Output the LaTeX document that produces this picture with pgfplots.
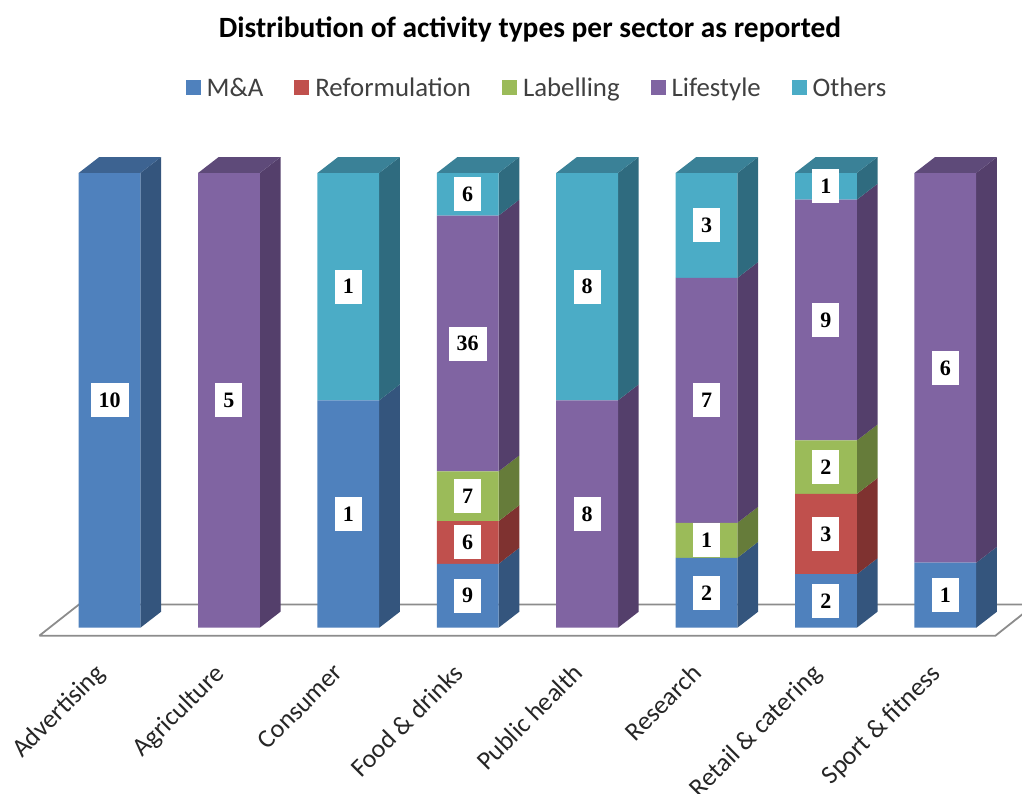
\documentclass[border=0pt]{standalone}
\usepackage{fontspec}
\setmainfont{Carlito}
\newfontfamily\valfont{Liberation Serif}
\usepackage{pgfplots}
\usepackage{pgfplotstable}
\pgfplotsset{compat=1.18}

% front face colours
\definecolor{cma}{HTML}{4F81BD}
\definecolor{cref}{HTML}{C0504D}
\definecolor{clab}{HTML}{9BBB59}
\definecolor{clife}{HTML}{8064A2}
\definecolor{coth}{HTML}{4BACC6}
% side faces
\definecolor{sma}{HTML}{34557D}
\definecolor{sref}{HTML}{7F3230}
\definecolor{slab}{HTML}{667C3A}
\definecolor{slife}{HTML}{543F6B}
\definecolor{soth}{HTML}{2F6B7F}
% top faces
\definecolor{tma}{HTML}{3D6391}
\definecolor{tlife}{HTML}{5E4A79}
\definecolor{toth}{HTML}{3A8197}
\definecolor{floorline}{HTML}{8C8C8C}

% share of each activity type per sector, in percent of that sector
\pgfplotstableread{
x  ma     ref   lab   life  oth
0  100    0     0     0     0
1  0      0     0     100   0
2  50     0     0     0     50
3  14.06  9.38  10.94 56.25 9.37
4  0      0     0     50    50
5  15.38  0     7.70  53.84 23.08
6  11.76  17.65 11.77 52.94 5.88
7  14.29  0     0     85.71 0
}\shares

% side of one stack segment: {bar}{from}{to}{colour}
\newcommand\side[4]{%
  \pgfmathsetmacro\xa{#1+0.2588}%
  \pgfmathsetmacro\xb{#1+0.2588+0.1734}%
  \pgfmathsetmacro\ya{#2+3.52}%
  \pgfmathsetmacro\yb{#3+3.52}%
  \addplot[fill=#4,draw=none] coordinates {(\xa,#2) (\xb,\ya) (\xb,\yb) (\xa,#3)};
}
% top of a bar: {bar}{colour}
\newcommand\toppart[2]{%
  \pgfmathsetmacro\xa{#1-0.2588}%
  \pgfmathsetmacro\xb{#1-0.2588+0.1734}%
  \pgfmathsetmacro\xc{#1+0.2588+0.1734}%
  \pgfmathsetmacro\xd{#1+0.2588}%
  \addplot[fill=#2,draw=none] coordinates {(\xa,100) (\xb,103.52) (\xc,103.52) (\xd,100)};
}

\pgfplotsset{
  base/.style={
    at={(0pt,138pt)}, anchor=south west,
    scale only axis, width=1022pt, height=655pt,
    xmin=-0.9171, xmax=7.6424, ymin=-6, ymax=138.05,
  },
  sq/.style={
    legend image code/.code={\fill[##1] (0pt,-7pt) rectangle (15pt,8pt); \path (19pt,0pt);},
  },
}

\begin{document}
\begin{tikzpicture}
\useasboundingbox (0,0) rectangle (1022pt,793pt);

% floor and the depth of the bars
\begin{axis}[base, hide axis]
\addplot[fill=white, draw=floorline, line width=1.8pt] coordinates {
  (-0.5877,-1.75) (-0.2550,5.12) (7.7500,5.12) (7.4200,-1.75) (-0.5877,-1.75)};

\side{0}{0}{100}{sma}
\toppart{0}{tma}
\side{1}{0}{100}{slife}
\toppart{1}{tlife}
\side{2}{0}{50}{sma}
\side{2}{50}{100}{soth}
\toppart{2}{toth}
\side{3}{0}{14.06}{sma}
\side{3}{14.06}{23.44}{sref}
\side{3}{23.44}{34.38}{slab}
\side{3}{34.38}{90.63}{slife}
\side{3}{90.63}{100}{soth}
\toppart{3}{toth}
\side{4}{0}{50}{slife}
\side{4}{50}{100}{soth}
\toppart{4}{toth}
\side{5}{0}{15.38}{sma}
\side{5}{15.38}{23.08}{slab}
\side{5}{23.08}{76.92}{slife}
\side{5}{76.92}{100}{soth}
\toppart{5}{toth}
\side{6}{0}{11.76}{sma}
\side{6}{11.76}{29.41}{sref}
\side{6}{29.41}{41.18}{slab}
\side{6}{41.18}{94.12}{slife}
\side{6}{94.12}{100}{soth}
\toppart{6}{toth}
\side{7}{0}{14.29}{sma}
\side{7}{14.29}{100}{slife}
\toppart{7}{tlife}
\end{axis}

% front faces, title, legend, sector names
\begin{axis}[base,
  ybar stacked, bar width=61.8pt,
  axis line style={draw=none}, major tick length=0pt,
  ytick=\empty,
  xtick={0,...,7},
  xticklabels={Advertising,Agriculture,Consumer,Food \& drinks,Public health,Research,Retail \& catering,Sport \& fitness},
  xticklabel style={xshift=-16pt, yshift=-7pt, rotate=45, anchor=north east, inner sep=0pt, font=\fontsize{26}{26}\selectfont, text=black!85},
  title={Distribution of activity types per sector as reported},
  title style={at={(0.5186,0.946)}, anchor=center, yshift=0pt, inner sep=0pt, font=\bfseries\fontsize{29.4}{30}\selectfont},
  legend columns=5,
  legend style={at={(0.5254,0.8655)}, anchor=center, draw=none, fill=none,
    font=\fontsize{26.8}{27}\selectfont, text=black!75,
    /tikz/every even column/.append style={column sep=29pt}},
]
\addplot[fill=cma,draw=none,sq] table[x=x,y=ma] {\shares};
\addlegendentry{M\&A}
\addplot[fill=cref,draw=none,sq] table[x=x,y=ref] {\shares};
\addlegendentry{Reformulation}
\addplot[fill=clab,draw=none,sq] table[x=x,y=lab] {\shares};
\addlegendentry{Labelling}
\addplot[fill=clife,draw=none,sq] table[x=x,y=life] {\shares};
\addlegendentry{Lifestyle}
\addplot[fill=coth,draw=none,sq] table[x=x,y=oth] {\shares};
\addlegendentry{Others}
\end{axis}

% reported counts, in the middle of each segment
\begin{axis}[base, hide axis]
\addplot[only marks, mark=none, point meta=explicit symbolic, nodes near coords,
  every node near coord/.append style={anchor=center, fill=white, text=black,
    font=\valfont\bfseries\fontsize{22}{22}\selectfont,
    inner xsep=8pt, inner ysep=0pt, minimum width=27pt, minimum height=34pt},
] coordinates {
  (0,50)[10]
  (1,50)[5]
  (2,25)[1] (2,75)[1]
  (3,7.03)[9] (3,18.75)[6] (3,28.91)[7] (3,62.5)[36] (3,95.31)[6]
  (4,25)[8] (4,75)[8]
  (5,7.69)[2] (5,19.23)[1] (5,50)[7] (5,88.46)[3]
  (6,5.88)[2] (6,20.59)[3] (6,35.29)[2] (6,67.65)[9] (6,97.06)[1]
  (7,7.14)[1] (7,57.14)[6]
};
\end{axis}
\end{tikzpicture}
\end{document}
